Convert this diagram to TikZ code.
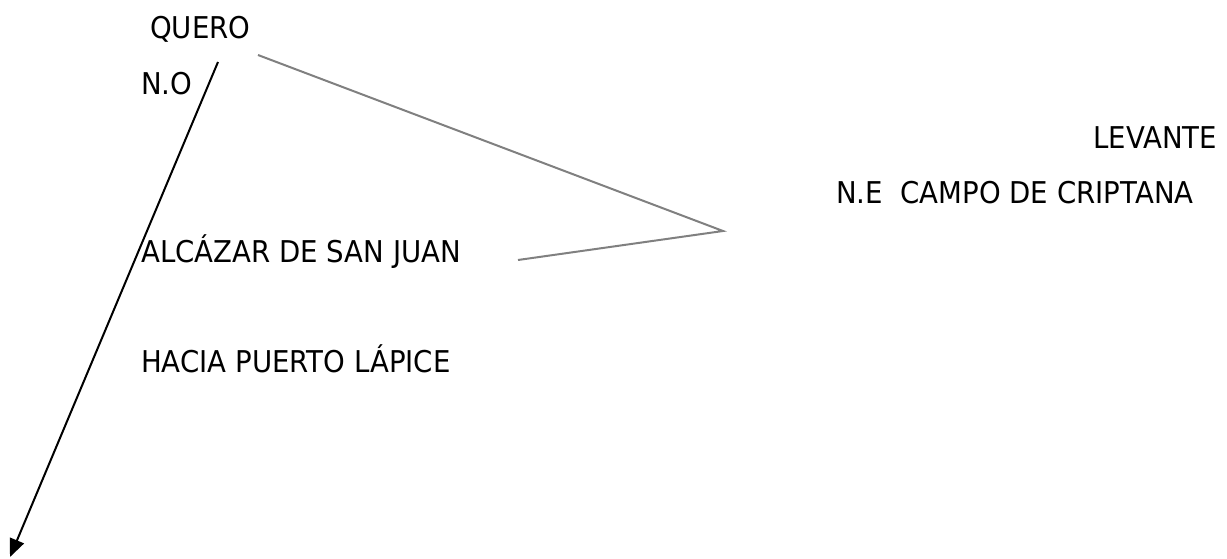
\documentclass[tikz,border=0pt]{standalone}
\usepackage{fontspec}
\setmainfont{DejaVu Sans}[FakeStretch=0.92]
\usetikzlibrary{arrows.meta}
\begin{document}
\begin{tikzpicture}[x=1pt,y=-1pt,
  lbl/.style={anchor=base west,inner sep=0pt,font=\fontsize{30}{36}\selectfont},
  road/.style={line width=2pt,black},
  guide/.style={line width=2pt,gray,line join=miter}]
\useasboundingbox (0,0) rectangle (1227,559);

% place names
\node[lbl] (quero)  at (150,39)  {QUERO};
\node[lbl] (no)     at (141,95)  {N.O};
\node[lbl] (lev)    at (1093,149) {LEVANTE};
\node[lbl] (ne)     at (836,204) {N.E\ \ CAMPO DE CRIPTANA};
\node[lbl] (alc)    at (141,262) {ALCÁZAR DE SAN JUAN};
\node[lbl] (hacia)  at (141,372) {HACIA PUERTO LÁPICE};

% road towards Puerto Lápice
\coordinate (r1) at (218,62);
\coordinate (r2) at (10,557);
\draw[road,-{Triangle[length=18pt,width=15pt]}] (r1) -- (r2);

% angle between the two directions
\coordinate (g1) at (258,55);
\coordinate (g2) at (723,231);
\coordinate (g3) at (518,260);
\draw[guide] (g1) -- (g2) -- (g3);
\end{tikzpicture}
\end{document}
